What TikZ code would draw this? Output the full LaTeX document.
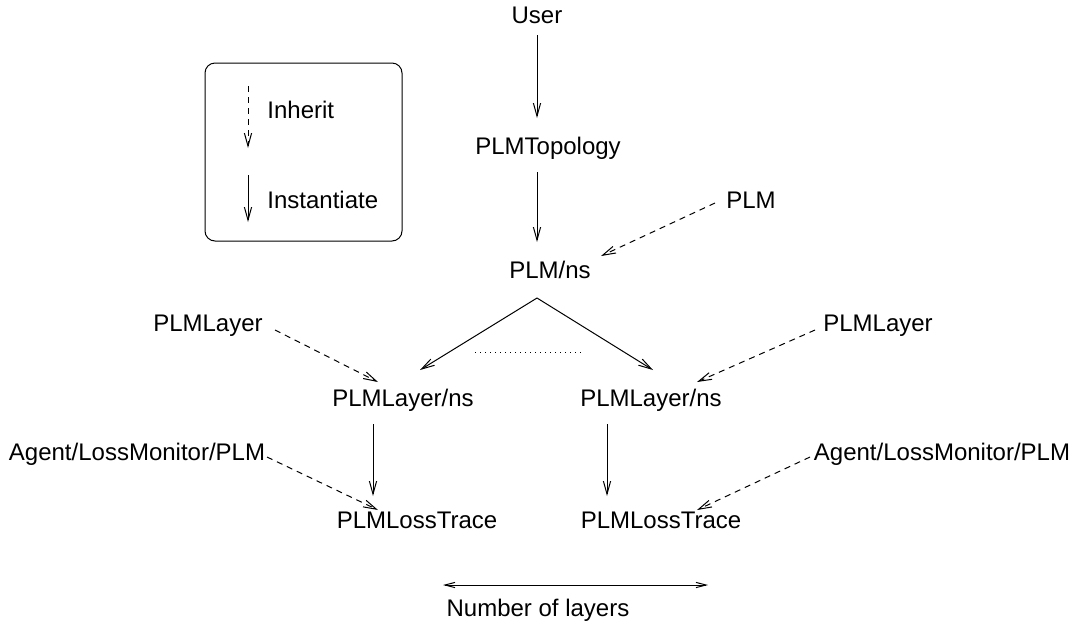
\documentclass[tikz,border=0pt]{standalone}
\usepackage{fontspec}
\setmainfont{Liberation Sans}
\usetikzlibrary{arrows.meta}
\begin{document}
\begin{tikzpicture}[x=0.5pt,y=-0.5pt,
  lbl/.style={font=\fontsize{12}{14}\selectfont, inner sep=0pt, anchor=center},
  inst/.style={line width=0.5pt, -{Straight Barb[length=6.5pt,width=3.6pt]}},
  inh/.style={line width=0.5pt, dash pattern=on 3pt off 2.5pt, -{Straight Barb[length=6.5pt,width=3.6pt]}},
  spanarrow/.style={line width=0.5pt, {Straight Barb[length=5pt,width=2.6pt]}-{Straight Barb[length=5pt,width=2.6pt]}},
  legendbox/.style={draw, line width=0.5pt, rounded corners=5pt}]
\useasboundingbox (0,0) rectangle (1077,628);
% legend
\draw[legendbox] (205,63) rectangle (402,241);
\node[lbl, anchor=west] (inhtxt) at (267,110) {Inherit};
\node[lbl, anchor=west] (insttxt) at (267,200) {Instantiate};
\draw[inh] ([shift={(-19,-24)}]inhtxt.west) -- ([shift={(-19,38)}]inhtxt.west);
\draw[inst] ([shift={(-19,-25)}]insttxt.west) -- ([shift={(-19,22)}]insttxt.west);
% nodes
\node[lbl] (user) at (537,15) {User};
\node[lbl] (topo) at (548,148) {PLMTopology};
\node[lbl] (plmns) at (550,270) {PLM/ns};
\node[lbl] (plm) at (751,200) {PLM};
\node[lbl] (layerL) at (208,326) {PLMLayer};
\node[lbl] (layerR) at (878,326) {PLMLayer};
\node[lbl] (lnsL) at (403,400) {PLMLayer/ns};
\node[lbl] (lnsR) at (651,400) {PLMLayer/ns};
\node[lbl] (agentL) at (137,454) {Agent/LossMonitor/PLM};
\node[lbl] (agentR) at (942,454) {Agent/LossMonitor/PLM};
\node[lbl] (traceL) at (417,520) {PLMLossTrace};
\node[lbl] (traceR) at (661,520) {PLMLossTrace};
\node[lbl] (num) at (538,610) {Number of layers};
\coordinate (dotA) at (475,352);
\coordinate (dotB) at (583,352);
\coordinate (rangeA) at (443,585);
\coordinate (rangeB) at (708,585);
% connectors
\draw[inst] ([shift={(0,20)}]user.center) -- ([shift={(-11,-30)}]topo.center);
\draw[inst] ([shift={(-11,24)}]topo.center) -- ([shift={(-13,-28)}]plmns.center);
\draw[inh] ([shift={(-36,3)}]plm.center) -- ([shift={(51,-14)}]plmns.center);
\draw[inst] ([shift={(-13,28)}]plmns.center) -- ([shift={(17,-30)}]lnsL.center);
\draw[inst] ([shift={(-13,28)}]plmns.center) -- ([shift={(2,-30)}]lnsR.center);
\draw[line width=0.5pt, dotted] (dotA) -- (dotB);
\draw[inh] ([shift={(67,4)}]layerL.center) -- ([shift={(-25,-18)}]lnsL.center);
\draw[inh] ([shift={(-63,4)}]layerR.center) -- ([shift={(46,-18)}]lnsR.center);
\draw[inst] ([shift={(-30,24)}]lnsL.center) -- ([shift={(-44,-24)}]traceL.center);
\draw[inst] ([shift={(-44,24)}]lnsR.center) -- ([shift={(-54,-24)}]traceR.center);
\draw[inh] ([shift={(130,3)}]agentL.center) -- ([shift={(-39,-10)}]traceL.center);
\draw[inh] ([shift={(-132,3)}]agentR.center) -- ([shift={(36,-10)}]traceR.center);
\draw[spanarrow] (rangeA) -- (rangeB);
\end{tikzpicture}
\end{document}
